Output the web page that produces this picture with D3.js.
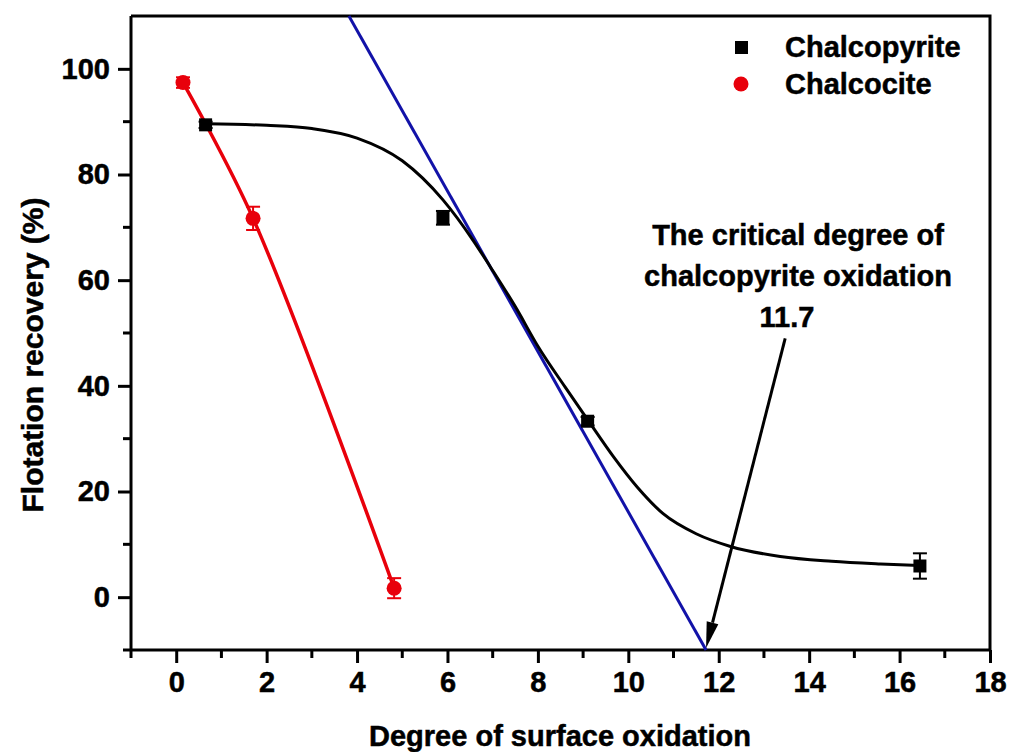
<!DOCTYPE html>
<html><head><meta charset="utf-8">
<script src="https://cdn.jsdelivr.net/npm/d3@7"></script>
<style>
html,body{margin:0;padding:0;background:#fff;}
svg text{font-family:"Liberation Sans",Arial,sans-serif;font-weight:bold;fill:#000;stroke:#000;stroke-width:0.5px;}
</style></head>
<body>
<svg id="c" width="1010" height="752"></svg>
<script>
// ---- data ----
const xTicks = [0, 2, 4, 6, 8, 10, 12, 14, 16, 18];
const yTicks = [0, 20, 40, 60, 80, 100];
const seriesNames = ["Chalcopyrite", "Chalcocite"];
const chalcopyriteX = [0.65, 5.9, 9.1, 16.45];
const chalcopyriteY = [89.4, 71.8, 33.3, 5.9];
const chalcopyriteErr = [0.6, 1.3, 0.8, 2.4];
const chalcociteX = [0.15, 1.7, 4.82];
const chalcociteY = [97.4, 71.7, 1.7];
const chalcociteErr = [1.0, 2.2, 1.9];
// fitted (sigmoid) curve
const fitX = [0.65, 2, 3, 4, 5, 5.9, 6.57, 6.95, 7.5, 8, 8.6, 9.1, 9.67, 10.2, 10.77, 11.5, 12.26, 13.36, 14.5, 15.58, 16.45];
const fitY = [89.6, 89.3, 88.7, 86.9, 82.6, 75.2, 67.5, 62.5, 55, 47.5, 39.8, 33.6, 26.6, 20.8, 15.8, 12.0, 9.6, 7.7, 6.8, 6.3, 6.0];
// tangent line
const tangentX = [3.82, 11.72];
const tangentY = [110, -10];
const annotationLines = ["The critical degree of", "chalcopyrite oxidation", "11.7"];
const arrowFrom = [13.47, 49];
const arrowTo = [11.72, -9.6];

// ---- drawing ----
const svg = d3.select("#c");
const x = d3.scaleLinear().domain([-1, 18]).range([131, 990]);
const y = d3.scaleLinear().domain([-10, 110]).range([650, 16]);
const FS = 29;

// frame (top & right)
svg.append("path")
  .attr("d", `M${x(-1)},${y(110)}H${x(18)}V${y(-10)}`)
  .attr("fill", "none").attr("stroke", "#000").attr("stroke-width", 3);

// x axis
const xAxis = d3.axisBottom(x).tickValues(xTicks).tickSize(13).tickPadding(8).tickFormat(d3.format("d"));
const gx = svg.append("g").attr("transform", `translate(0,${y(-10)})`).call(xAxis);
const xMinor = d3.range(-1, 18, 2);
gx.selectAll(".minor").data(xMinor).enter().append("line").attr("class", "minor")
  .attr("x1", d => x(d)).attr("x2", d => x(d)).attr("y1", 0).attr("y2", 8)
  .attr("stroke", "#000").attr("stroke-width", 3);

// y axis
const yAxis = d3.axisLeft(y).tickValues(yTicks).tickSize(13).tickPadding(8).tickFormat(d3.format("d"));
const gy = svg.append("g").attr("transform", `translate(${x(-1)},0)`).call(yAxis);
const yMinor = d3.range(-10, 110, 20);
gy.selectAll(".minor").data(yMinor).enter().append("line").attr("class", "minor")
  .attr("x1", 0).attr("x2", -8).attr("y1", d => y(d)).attr("y2", d => y(d))
  .attr("stroke", "#000").attr("stroke-width", 3);

[gx, gy].forEach(g => {
  g.select(".domain").attr("stroke-width", 3).attr("d",
    g === gx ? `M${x(-1)},0H${x(18)}` : `M0,${y(-10)}V${y(110)}`);
  g.selectAll(".tick line").attr("stroke-width", 3);
  g.selectAll(".tick text").attr("font-size", FS).attr("font-weight", "bold")
    .attr("font-family", '"Liberation Sans",Arial,sans-serif');
});
gx.selectAll(".tick text").attr("dy", "0.72em");

// axis titles
svg.append("text").attr("x", 560).attr("y", 746).attr("text-anchor", "middle")
  .attr("font-size", FS).text("Degree of surface oxidation");
svg.append("text").attr("transform", `translate(43,355) rotate(-90)`).attr("text-anchor", "middle")
  .attr("font-size", 30).text("Flotation recovery (%)");

// tangent line
svg.append("line")
  .attr("x1", x(tangentX[0])).attr("y1", y(tangentY[0]))
  .attr("x2", x(tangentX[1])).attr("y2", y(tangentY[1]))
  .attr("stroke", "#1212a8").attr("stroke-width", 3);

// fitted curve
const fitData = fitX.map((d, i) => [d, fitY[i]]);
svg.append("path").datum(fitData)
  .attr("d", d3.line().x(d => x(d[0])).y(d => y(d[1])).curve(d3.curveMonotoneX))
  .attr("fill", "none").attr("stroke", "#000").attr("stroke-width", 3);

// chalcocite line
const ccData = chalcociteX.map((d, i) => ({x: d, y: chalcociteY[i], e: chalcociteErr[i]}));
svg.append("path").datum(ccData)
  .attr("d", d3.line().x(d => x(d.x)).y(d => y(d.y)).curve(d3.curveCatmullRom))
  .attr("fill", "none").attr("stroke", "#e8000b").attr("stroke-width", 3.5);

const cpData = chalcopyriteX.map((d, i) => ({x: d, y: chalcopyriteY[i], e: chalcopyriteErr[i]}));

function errBars(data, color) {
  const g = svg.append("g").attr("stroke", color).attr("stroke-width", 2);
  data.forEach(d => {
    const cx = x(d.x), y1 = y(d.y + d.e), y2 = y(d.y - d.e);
    g.append("line").attr("x1", cx).attr("x2", cx).attr("y1", y1).attr("y2", y2);
    g.append("line").attr("x1", cx - 7).attr("x2", cx + 7).attr("y1", y1).attr("y2", y1);
    g.append("line").attr("x1", cx - 7).attr("x2", cx + 7).attr("y1", y2).attr("y2", y2);
  });
}
errBars(cpData, "#000");
errBars(ccData, "#e8000b");

svg.selectAll(".sq").data(cpData).enter().append("rect").attr("class", "sq")
  .attr("x", d => x(d.x) - 6.5).attr("y", d => y(d.y) - 6.5)
  .attr("width", 13).attr("height", 13).attr("fill", "#000");
svg.selectAll(".ci").data(ccData).enter().append("circle").attr("class", "ci")
  .attr("cx", d => x(d.x)).attr("cy", d => y(d.y)).attr("r", 7.5).attr("fill", "#e8000b");

// annotation
const ann = svg.append("text").attr("text-anchor", "middle").attr("font-size", FS);
annotationLines.forEach((t, i) => {
  ann.append("tspan").attr("x", i === 2 ? 787 : 798).attr("y", 245 + i * 41).text(t);
});

// arrow
const ax0 = x(arrowFrom[0]), ay0 = y(arrowFrom[1]), ax1 = x(arrowTo[0]), ay1 = y(arrowTo[1]);
const ang = Math.atan2(ay1 - ay0, ax1 - ax0);
const L = 26, W = 6;
const bx = ax1 - L * Math.cos(ang), by = ay1 - L * Math.sin(ang);
svg.append("line").attr("x1", ax0).attr("y1", ay0).attr("x2", bx).attr("y2", by)
  .attr("stroke", "#000").attr("stroke-width", 3);
svg.append("path")
  .attr("d", `M${ax1},${ay1}L${bx + W * Math.sin(ang)},${by - W * Math.cos(ang)}L${bx - W * Math.sin(ang)},${by + W * Math.cos(ang)}Z`)
  .attr("fill", "#000");

// legend
const leg = svg.append("g");
leg.append("rect").attr("x", 735).attr("y", 41).attr("width", 13).attr("height", 13).attr("fill", "#000");
leg.append("circle").attr("cx", 741).attr("cy", 84).attr("r", 7.5).attr("fill", "#e8000b");
leg.append("text").attr("x", 785).attr("y", 57).attr("font-size", FS).text(seriesNames[0]);
leg.append("text").attr("x", 785).attr("y", 94).attr("font-size", FS).text(seriesNames[1]);
</script>
</body></html>
